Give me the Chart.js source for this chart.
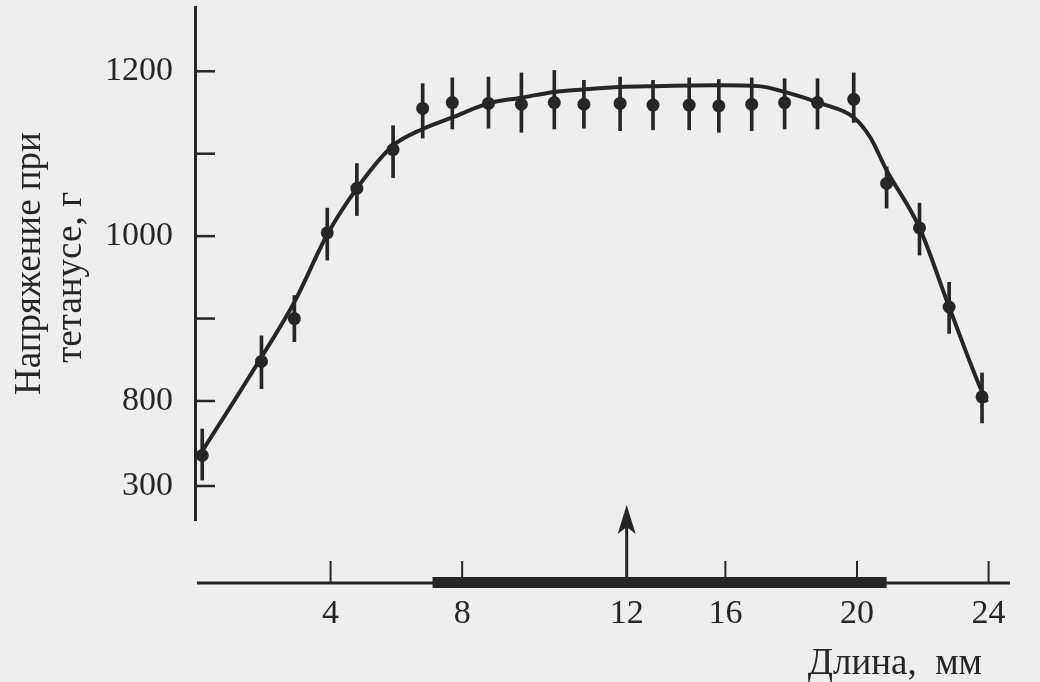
<!DOCTYPE html>
<html lang="ru">
<head>
<meta charset="utf-8">
<title>Напряжение при тетанусе</title>
<script src="https://cdn.jsdelivr.net/npm/chart.js@4.4.1/dist/chart.umd.min.js"></script>
<style>
  html, body { margin: 0; padding: 0; background: #eeeeee; }
  #wrap { width: 1040px; height: 682px; }
</style>
</head>
<body>
<div id="wrap"><canvas id="chart" width="1040" height="682"></canvas></div>
<script>
// ── Data: tetanic tension (g) vs. muscle length (mm) ──
const lengthMm = [0.1, 1.9, 2.9, 3.9, 4.8, 5.9, 6.8, 7.7, 8.8, 9.8, 10.8, 11.7,
                  12.8, 13.8, 14.9, 15.8, 16.8, 17.8, 18.8, 19.9, 20.9, 21.9, 22.8, 23.8];
const tensionG = [480, 848, 900, 1004, 1058, 1105, 1155, 1162, 1161, 1160, 1162, 1160,
                  1161, 1159, 1159, 1158, 1160, 1162, 1162, 1166, 1064, 1010, 914, 805];
const errUp    = [155, 31, 28, 30, 30, 29, 30, 30, 32, 38, 39, 29,
                  32, 30, 33, 32, 32, 29, 29, 32, 20, 30, 30, 29];
const errDown  = [145, 33, 28, 33, 33, 34, 36, 32, 30, 34, 32, 29,
                  33, 30, 30, 32, 32, 32, 32, 28, 30, 33, 32, 134];

// Fitted curve, traced point by point
const curveMm = [0.0, 1.1, 1.85, 2.9, 3.9, 4.8, 5.9, 6.8, 7.7, 8.8, 9.8, 10.8, 11.7,
                 12.8, 13.8, 15.8, 17.0, 17.8, 18.9, 19.9, 20.4, 20.9, 21.9, 22.8, 23.8, 23.95];
const curveG  = [476, 802, 850, 920, 1002, 1058, 1110, 1130, 1144, 1161, 1168, 1175, 1178,
                 1181, 1182, 1183, 1182, 1175, 1161, 1144, 1120, 1080, 1010, 914, 811, 794];

// Axis ticks (the y axis is broken between 300 and 800)
const yTicks      = [300, 800, 900, 1000, 1100, 1200];
const yTickLabels = ['300', '800', '', '1000', '', '1200'];
// In the figure the "12" label sits under the arrow, i.e. at ~13 on the scale
const xTicks      = [4, 8, 13, 16, 20, 24];
const xTickLabels = ['4', '8', '12', '16', '20', '24'];
const arrowAt     = 13;
const rangeBar    = [7.1, 20.9];

const INK   = '#262626';
const SERIF = "'Liberation Serif', 'DejaVu Serif', serif";

// ── Piecewise-linear y scale: compressed below the break value ───────────
class BrokenScale extends Chart.LinearScale {
  static id = 'broken';
  static defaults = Chart.LinearScale.defaults;

  toDecimal(v) {
    const { breakValue: b, breakAt: f } = this.options;
    if (v <= b) return (v - this.min) / (b - this.min) * f;
    return f + (v - b) / (this.max - b) * (1 - f);
  }
  getPixelForValue(value) {
    if (value === null || value === undefined) return NaN;
    return this.getPixelForDecimal(this.toDecimal(value));
  }
  getValueForPixel(pixel) {
    const d = this.getDecimalForPixel(pixel);
    const { breakValue: b, breakAt: f } = this.options;
    if (d <= f) return this.min + d / f * (b - this.min);
    return b + (d - f) / (1 - f) * (this.max - b);
  }
}
Chart.register(BrokenScale);

// no extra room for end labels: the plot box is set by layout padding only
function noEdgePadding(axis) {
  axis.paddingTop = 0;
  axis.paddingBottom = 0;
  axis.paddingLeft = 0;
  axis.paddingRight = 0;
}

// ── Inward ticks, detached length axis, arrow and x title ────────────────
const figureAxes = {
  id: 'figureAxes',
  afterDatasetsDraw(chart) {
    const { ctx, chartArea: { left, right, bottom }, scales: { x, y } } = chart;
    ctx.save();
    ctx.strokeStyle = INK;
    ctx.fillStyle   = INK;
    ctx.lineCap     = 'butt';

    // y tick marks point into the plot
    ctx.lineWidth = 2.5;
    y.ticks.forEach(t => {
      const py = y.getPixelForValue(t.value);
      ctx.beginPath();
      ctx.moveTo(left, py);
      ctx.lineTo(left + 20, py);
      ctx.stroke();
    });

    // length axis sits below the end of the y axis
    const axisY = bottom + 63;
    ctx.lineWidth = 3;
    ctx.beginPath();
    ctx.moveTo(left + 2, axisY);
    ctx.lineTo(right, axisY);
    ctx.stroke();

    const b0 = x.getPixelForValue(rangeBar[0]);
    const b1 = x.getPixelForValue(rangeBar[1]);
    ctx.fillRect(b0, axisY - 6, b1 - b0, 11);

    ctx.lineWidth = 2;
    xTicks.forEach(v => {
      if (v === arrowAt) return;
      const px = x.getPixelForValue(v);
      ctx.beginPath();
      ctx.moveTo(px, axisY);
      ctx.lineTo(px, axisY - 22);
      ctx.stroke();
    });

    // arrow
    const ax  = x.getPixelForValue(arrowAt);
    const tip = axisY - 78;
    ctx.lineWidth = 3;
    ctx.beginPath();
    ctx.moveTo(ax, axisY);
    ctx.lineTo(ax, tip + 20);
    ctx.stroke();
    ctx.beginPath();
    ctx.moveTo(ax, tip);
    ctx.lineTo(ax + 9, tip + 29);
    ctx.lineTo(ax, tip + 22);
    ctx.lineTo(ax - 9, tip + 29);
    ctx.closePath();
    ctx.fill();

    // x title
    ctx.font         = `37px ${SERIF}`;
    ctx.textAlign    = 'right';
    ctx.textBaseline = 'alphabetic';
    ctx.fillText('Длина,  мм', right - 28, chart.height - 8);

    ctx.restore();
  },
};

const points = lengthMm.map((x, i) => ({ x, y: tensionG[i] }));
const bars   = lengthMm.map((x, i) => ({ x, y: [tensionG[i] - errDown[i], tensionG[i] + errUp[i]] }));
const curve  = curveMm.map((x, i) => ({ x, y: curveG[i] }));

new Chart(document.getElementById('chart').getContext('2d'), {
  data: {
    datasets: [
      {
        type: 'line',
        data: curve,
        borderColor: INK,
        borderWidth: 4,
        pointRadius: 0,
        fill: false,
        cubicInterpolationMode: 'monotone',
        clip: false,
        order: 1,
      },
      {
        type: 'scatter',
        data: points,
        backgroundColor: INK,
        borderWidth: 0,
        pointRadius: 6.5,
        clip: false,
        order: 2,
      },
      {
        type: 'bar',
        data: bars,
        backgroundColor: INK,
        borderWidth: 0,
        barThickness: 3,
        grouped: false,
        clip: false,
        order: 3,
      },
    ],
  },
  options: {
    responsive: false,
    animation: false,
    events: [],
    layout: { padding: { top: 7, right: 30, left: 0, bottom: 0 } },
    plugins: { legend: { display: false }, tooltip: { enabled: false } },
    scales: {
      x: {
        type: 'linear',
        offset: false,
        min: -0.12,
        max: 24.65,
        grid: { display: false, drawTicks: false, offset: false },
        border: { display: false },
        afterBuildTicks: axis => { axis.ticks = xTicks.map(v => ({ value: v })); },
        afterFit: axis => { axis.height = 162; noEdgePadding(axis); },
        ticks: {
          autoSkip: false,
          maxRotation: 0,
          padding: 74,
          color: INK,
          font: { family: SERIF, size: 34 },
          callback: v => xTickLabels[xTicks.indexOf(v)],
        },
      },
      y: {
        type: 'broken',
        min: 100,
        max: 1278,
        breakValue: 800,
        breakAt: 0.232,
        grid: { display: false, drawTicks: false },
        border: { display: true, color: INK, width: 3 },
        afterBuildTicks: axis => { axis.ticks = yTicks.map(v => ({ value: v })); },
        afterFit: axis => { axis.width = 195; noEdgePadding(axis); },
        ticks: {
          autoSkip: false,
          padding: 22,
          color: INK,
          font: { family: SERIF, size: 34 },
          callback: v => yTickLabels[yTicks.indexOf(v)],
        },
        title: {
          display: true,
          // trailing spaces nudge the shorter second line down, as in the figure
          text: ['Напряжение при', 'тетанусе, г   '],
          color: INK,
          font: { family: SERIF, size: 37, lineHeight: 1.1 },
          padding: { top: 10, bottom: 0 },
        },
      },
    },
  },
  plugins: [figureAxes],
});
</script>
</body>
</html>
